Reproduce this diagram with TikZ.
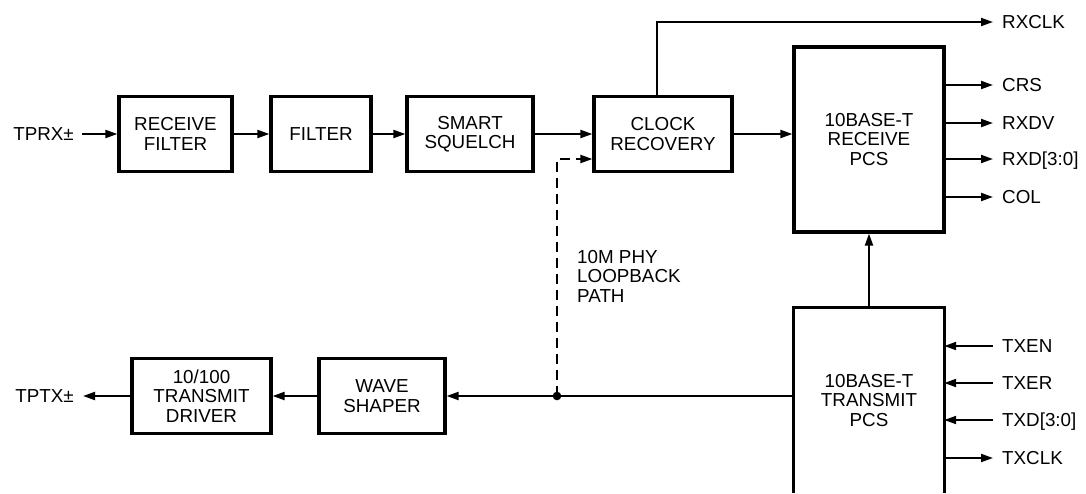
\documentclass[tikz,border=0pt]{standalone}
\usepackage{fontspec}
\setmainfont{Liberation Sans}
\usetikzlibrary{arrows.meta}
\begin{document}
\begin{tikzpicture}[x=1pt,y=-1pt,
  font=\fontsize{18.8}{19.5}\selectfont,
  blk/.style={draw, line width=3.2pt, align=center, inner sep=0},
  tip/.style={-{Triangle[length=12pt,width=8pt]}},
  arr/.style={line width=2pt, tip},
  ln/.style={line width=2pt},
  sig/.style={inner sep=0, text height=13pt, text depth=0pt},
  dsh/.style={line width=2pt, dash pattern=on 10pt off 6pt}]
\path[use as bounding box] (0,0) rectangle (1086,493);

% receive chain
\node[blk, minimum width=113pt, minimum height=75pt] (rf) at (175.5,134) {RECEIVE\\FILTER};
\node[blk, minimum width=100pt, minimum height=75pt] (fi) at (321,134) {FILTER};
\node[blk, minimum width=126pt, minimum height=75pt] (sq) at (470,134) {SMART\\SQUELCH};
\node[blk, minimum width=138pt, minimum height=75pt] (cr) at (663,134) {CLOCK\\RECOVERY};
\node[blk, minimum width=150pt, minimum height=185pt] (rpcs) at (869,139.5) {10BASE-T\\RECEIVE\\PCS};

% transmit PCS (open at the bottom)
\node[align=center, inner sep=0, minimum width=150pt, minimum height=185pt] (tpcs) at (869,400.5) {10BASE-T\\TRANSMIT\\PCS};
\draw[line width=3.2pt] (tpcs.south west) -- (tpcs.north west) -- (tpcs.north east) -- (tpcs.south east);

% transmit chain
\node[blk, minimum width=126pt, minimum height=75pt] (ws) at (382,396) {WAVE\\SHAPER};
\node[blk, minimum width=139pt, minimum height=75pt] (td) at (201.5,396) {10/100\\TRANSMIT\\DRIVER};

% external labels
\node[sig, anchor=east] (tprx) at (74,134) {TPRX±};
\node[sig, anchor=east] (tptx) at (74,396) {TPTX±};
\node[sig, anchor=west] (rxclk) at (1002,22) {RXCLK};
\node[sig, anchor=west] (crs) at (1002,85) {CRS};
\node[sig, anchor=west] (rxdv) at (1002,123) {RXDV};
\node[sig, anchor=west] (rxd) at (1002,159) {RXD[3:0]};
\node[sig, anchor=west] (col) at (1002,197) {COL};
\node[sig, anchor=west] (txen) at (1002,346) {TXEN};
\node[sig, anchor=west] (txer) at (1002,383) {TXER};
\node[sig, anchor=west] (txd) at (1002,420) {TXD[3:0]};
\node[sig, anchor=west] (txclk) at (1002,458) {TXCLK};

% receive arrows
\draw[arr] ([xshift=8pt]tprx.east) -- (rf.west);
\draw[arr] (rf) -- (fi);
\draw[arr] (fi) -- (sq);
\draw[arr] (sq) -- (cr);
\draw[arr] (cr.east) -- (cr.east -| rpcs.west);
\draw[arr] ([xshift=-6pt]cr.north) |- ([xshift=-9pt]rxclk.west);
\draw[arr] (crs.west -| rpcs.east) -- ([xshift=-9pt]crs.west);
\draw[arr] (rxdv.west -| rpcs.east) -- ([xshift=-9pt]rxdv.west);
\draw[arr] (rxd.west -| rpcs.east) -- ([xshift=-9pt]rxd.west);
\draw[arr] (col.west -| rpcs.east) -- ([xshift=-9pt]col.west);

% transmit arrows
\draw[arr] (tpcs.north) -- (rpcs.south);
\draw[arr] ([xshift=-9pt]txen.west) -- (txen.west -| tpcs.east);
\draw[arr] ([xshift=-9pt]txer.west) -- (txer.west -| tpcs.east);
\draw[arr] ([xshift=-9pt]txd.west) -- (txd.west -| tpcs.east);
\draw[arr] (txclk.west -| tpcs.east) -- ([xshift=-9pt]txclk.west);
\draw[arr] (ws.east -| tpcs.west) -- (ws.east);
\draw[arr] (ws) -- (td);
\draw[arr] (td.west) -- ([xshift=9pt]tptx.east);

% loopback path
\coordinate (dot) at (557,396);
\coordinate (lbk) at (557,159);
\fill (dot) circle (4.3pt);
\draw[dsh] (dot) -- (lbk) -- ([xshift=-12pt]lbk -| cr.west);
\draw[arr] ([xshift=-12pt]lbk -| cr.west) -- (lbk -| cr.west);
\node[align=left, anchor=north west, inner sep=0] (lbl) at (577,250) {10M PHY\\LOOPBACK\\PATH};
\end{tikzpicture}
\end{document}
